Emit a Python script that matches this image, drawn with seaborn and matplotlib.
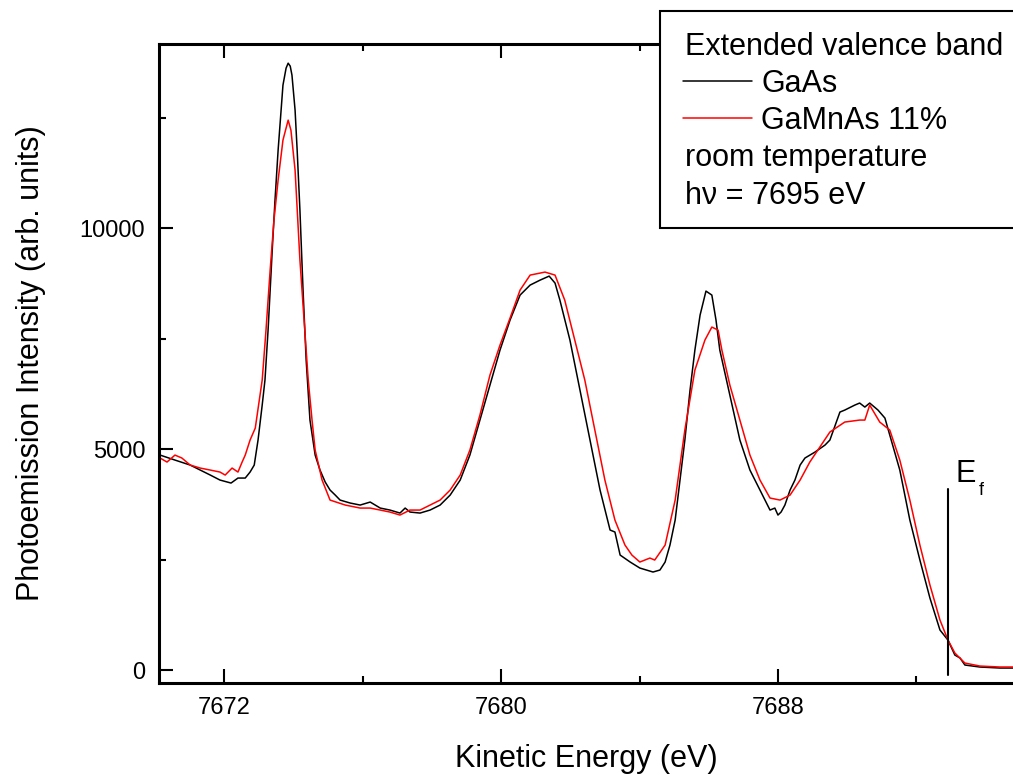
import matplotlib
matplotlib.use("Agg")
import matplotlib.pyplot as plt
from matplotlib.lines import Line2D
from matplotlib.patches import Rectangle
from matplotlib.ticker import MultipleLocator
import pandas as pd
import seaborn as sns

# GaAs spectrum (kinetic energy in eV, intensity in arb. units)
gaas_energy = [
    7670.15, 7670.58, 7671.02, 7671.31, 7671.60, 7671.88, 7672.20, 7672.40, 7672.61, 7672.75,
    7672.87, 7672.98, 7673.10, 7673.18, 7673.27, 7673.39, 7673.47, 7673.56, 7673.70, 7673.79,
    7673.85, 7673.91, 7673.96, 7674.05, 7674.11, 7674.19, 7674.28, 7674.37, 7674.48, 7674.63,
    7674.77, 7674.92, 7675.06, 7675.21, 7675.35, 7675.64, 7675.93, 7676.22, 7676.51, 7676.79,
    7677.08, 7677.23, 7677.37, 7677.66, 7677.95, 7678.24, 7678.53, 7678.82, 7679.10, 7679.39,
    7679.68, 7679.97, 7680.26, 7680.55, 7680.84, 7681.13, 7681.39, 7681.56, 7681.70, 7681.99,
    7682.28, 7682.57, 7682.86, 7683.15, 7683.29, 7683.44, 7683.73, 7684.01, 7684.39, 7684.59,
    7684.74, 7684.88, 7685.03, 7685.17, 7685.31, 7685.46, 7685.60, 7685.75, 7685.92, 7686.09,
    7686.21, 7686.32, 7686.61, 7686.90, 7687.19, 7687.48, 7687.77, 7687.91, 7688.00, 7688.09,
    7688.20, 7688.35, 7688.49, 7688.64, 7688.78, 7689.07, 7689.36, 7689.50, 7689.79, 7689.93,
    7690.22, 7690.36, 7690.51, 7690.65, 7690.89, 7691.09, 7691.23, 7691.52, 7691.81, 7692.10,
    7692.39, 7692.68, 7692.91, 7693.11, 7693.26, 7693.40, 7693.83, 7694.41, 7694.79,
]
gaas_intensity = [
    4863, 4750, 4637, 4524, 4411, 4298, 4230, 4343, 4343, 4479,
    4637, 5203, 5994, 6560, 7691, 9500, 10631, 11762, 13233, 13617,
    13730, 13662, 13459, 12667, 11762, 10405, 8596, 7012, 5655, 4863,
    4524, 4253, 4072, 3958, 3845, 3778, 3732, 3800, 3664, 3619,
    3551, 3664, 3574, 3551, 3619, 3732, 3958, 4298, 4863, 5655,
    6447, 7238, 7917, 8483, 8709, 8822, 8912, 8754, 8369, 7465,
    6334, 5203, 4072, 3167, 3122, 2601, 2443, 2307, 2217, 2262,
    2443, 2827, 3393, 4298, 5203, 6334, 7238, 8030, 8573, 8483,
    7917, 7238, 6220, 5203, 4524, 4072, 3619, 3664, 3506, 3574,
    3732, 4072, 4298, 4637, 4796, 4931, 5090, 5203, 5836, 5881,
    5994, 6040, 5949, 6040, 5881, 5700, 5316, 4524, 3393, 2488,
    1629, 905, 679, 339, 271, 113, 68, 45, 45,
]

# GaMnAs 11% spectrum
gamnas_energy = [
    7670.15, 7670.35, 7670.58, 7670.78, 7671.02, 7671.31, 7671.60, 7671.88, 7672.03, 7672.23,
    7672.40, 7672.52, 7672.61, 7672.75, 7672.90, 7673.10, 7673.21, 7673.33, 7673.44, 7673.56,
    7673.70, 7673.85, 7673.93, 7674.05, 7674.19, 7674.31, 7674.43, 7674.54, 7674.63, 7674.83,
    7675.06, 7675.50, 7675.93, 7676.22, 7676.51, 7676.79, 7677.08, 7677.37, 7677.66, 7677.95,
    7678.24, 7678.53, 7678.82, 7679.10, 7679.39, 7679.68, 7679.97, 7680.26, 7680.55, 7680.84,
    7681.27, 7681.56, 7681.84, 7682.13, 7682.42, 7682.71, 7683.00, 7683.29, 7683.58, 7683.78,
    7684.01, 7684.30, 7684.44, 7684.74, 7685.03, 7685.31, 7685.60, 7685.89, 7686.09, 7686.27,
    7686.38, 7686.61, 7686.90, 7687.19, 7687.48, 7687.77, 7688.06, 7688.35, 7688.64, 7688.92,
    7689.21, 7689.50, 7689.93, 7690.36, 7690.51, 7690.65, 7690.94, 7691.23, 7691.52, 7691.81,
    7692.10, 7692.39, 7692.68, 7692.91, 7693.11, 7693.40, 7693.83, 7694.41, 7694.79,
]
gamnas_intensity = [
    4796, 4705, 4863, 4796, 4637, 4569, 4524, 4479, 4411, 4569,
    4479, 4705, 4863, 5203, 5474, 6560, 7691, 9048, 10179, 11084,
    11989, 12441, 12215, 11310, 9274, 7917, 6560, 5655, 4976, 4298,
    3845, 3732, 3664, 3664, 3619, 3574, 3506, 3619, 3619, 3732,
    3845, 4072, 4411, 4976, 5768, 6673, 7351, 7962, 8596, 8935,
    9003, 8935, 8369, 7465, 6560, 5429, 4298, 3393, 2827, 2601,
    2443, 2533, 2488, 2827, 3845, 5429, 6786, 7465, 7759, 7691,
    7238, 6447, 5655, 4863, 4298, 3891, 3845, 3958, 4298, 4705,
    5044, 5384, 5610, 5655, 5655, 5994, 5610, 5429, 4750, 3845,
    2827, 1923, 1131, 679, 385, 158, 90, 68, 68,
]

fermi_energy = 7692.91
fermi_line = [4100, -113]

x_major_ticks = [7672, 7680, 7688]
y_major_ticks = [0, 5000, 10000]

sns.set_theme(style="ticks")
plt.rcParams["font.family"] = ["Liberation Sans", "DejaVu Sans"]
plt.rcParams["text.color"] = "black"
plt.rcParams["axes.labelcolor"] = "black"

df = pd.concat([
    pd.DataFrame({"energy": gaas_energy, "intensity": gaas_intensity, "sample": "GaAs"}),
    pd.DataFrame({"energy": gamnas_energy, "intensity": gamnas_intensity, "sample": "GaMnAs 11%"}),
])

fig = plt.figure(figsize=(10.13, 7.75), dpi=100)
ax = fig.add_axes([0.157, 0.1187, 0.843, 0.8245])

sns.lineplot(data=df, x="energy", y="intensity", hue="sample",
             palette={"GaAs": "black", "GaMnAs 11%": "#ff0000"},
             estimator=None, sort=False, linewidth=1.1, legend=False, ax=ax)

# Fermi edge marker
ax.plot([fermi_energy, fermi_energy], fermi_line, color="black", lw=1.5)
ax.text(7693.14, 4253, "E", fontsize=22, ha="left", va="baseline")
ax.text(7693.80, 3950, "f", fontsize=13, ha="left", va="baseline")

ax.set_xlim(7670.12, 7694.79)
ax.set_ylim(-294, 14163)
ax.set_xticks(x_major_ticks)
ax.set_yticks(y_major_ticks)
ax.xaxis.set_minor_locator(MultipleLocator(4))
ax.yaxis.set_minor_locator(MultipleLocator(2500))
ax.tick_params(which="both", direction="in", top=True, right=False,
               labelsize=17, width=1.5, colors="black", pad=10)
ax.tick_params(which="major", length=10)
ax.tick_params(which="minor", length=5)
ax.spines["right"].set_visible(False)
for s in ["left", "bottom", "top"]:
    ax.spines[s].set_linewidth(2.2)
    ax.spines[s].set_color("black")

ax.set_xlabel("Kinetic Energy (eV)", fontsize=22, labelpad=18)
ax.set_ylabel("Photoemission Intensity (arb. units)", fontsize=22, labelpad=24)

# legend box drawn by hand, it runs off the right edge like the original
W, H = 1013.0, 775.0
box = Rectangle((660 / W, 1 - 228 / H), 0.5, 217 / H, transform=fig.transFigure,
                facecolor="white", edgecolor="black", lw=1.5, zorder=5, clip_on=False)
fig.add_artist(box)
fig.text(685 / W, 1 - 55 / H, "Extended valence band", fontsize=22, va="baseline", zorder=6)
fig.add_artist(Line2D([683 / W, 752 / W], [1 - 81 / H] * 2, transform=fig.transFigure,
                      color="black", lw=1.1, zorder=6))
fig.text(761 / W, 1 - 92 / H, "GaAs", fontsize=22, va="baseline", zorder=6)
fig.add_artist(Line2D([683 / W, 752 / W], [1 - 118 / H] * 2, transform=fig.transFigure,
                      color="#ff0000", lw=1.1, zorder=6))
fig.text(761 / W, 1 - 129 / H, "GaMnAs 11%", fontsize=22, va="baseline", zorder=6)
fig.text(685 / W, 1 - 166 / H, "room temperature", fontsize=22, va="baseline", zorder=6)
fig.text(685 / W, 1 - 204 / H, "h\u03bd = 7695 eV", fontsize=22, va="baseline", zorder=6)

fig.savefig("out.png", dpi=100, facecolor="white")
